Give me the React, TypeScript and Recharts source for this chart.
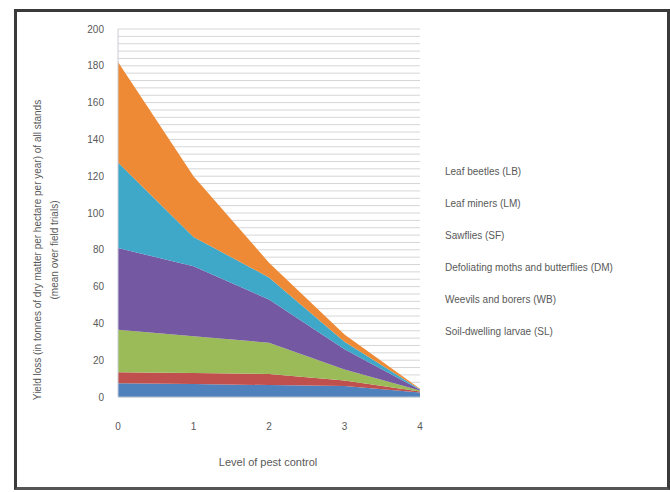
import React from "react";
import { AreaChart, Area, XAxis, YAxis, CartesianGrid } from "recharts";

// x categories and stacked layers, bottom layer first
const categories = ["0", "1", "2", "3", "4"];
const soilLarvae = [7.5, 7, 6.5, 6, 2.5];
const weevils = [6, 6, 6, 3, 0.5];
const moths = [23, 20, 17, 6, 0.5];
const sawflies = [44.5, 38, 23.5, 11, 0.5];
const leafMiners = [46.5, 16, 12, 4, 0.2];
const leafBeetles = [54.5, 33, 8, 4, 0.3];

// gridlines every 4, labels every 20
const gridTicks = Array.from({ length: 51 }, (_, i) => i * 4);

const series = [
  { key: "soilLarvae", name: "Soil-dwelling larvae (SL)", color: "#4F81BD", values: soilLarvae },
  { key: "weevils", name: "Weevils and borers (WB)", color: "#C0504D", values: weevils },
  { key: "moths", name: "Defoliating moths and butterflies (DM)", color: "#9BBB59", values: moths },
  { key: "sawflies", name: "Sawflies (SF)", color: "#7558A2", values: sawflies },
  { key: "leafMiners", name: "Leaf miners (LM)", color: "#3FA8C8", values: leafMiners },
  { key: "leafBeetles", name: "Leaf beetles (LB)", color: "#EE8A35", values: leafBeetles },
];

const data = categories.map((name, i) => {
  const row: Record<string, string | number> = { name };
  series.forEach((s) => (row[s.key] = s.values[i]));
  return row;
});

const font = "'Liberation Sans', Arial, sans-serif";

export default function App() {
  return (
    <div style={{ position: "absolute", left: 0, top: 0, width: 670, height: 492, background: "#fff", fontFamily: font }}>
      <div
        style={{
          position: "absolute",
          left: 14,
          top: 9,
          width: 656,
          height: 481,
          boxSizing: "border-box",
          borderTop: "3px solid #3a3a3a",
          borderLeft: "3px solid #3a3a3a",
          borderRight: "3px solid #3a3a3a",
          borderBottom: "3px solid #555",
        }}
      />
      <div style={{ position: "absolute", left: 0, top: 0 }}>
        <AreaChart width={670} height={492} data={data} margin={{ top: 29, right: 250, bottom: 65, left: 78 }}>
          <CartesianGrid vertical={false} stroke="#d6d6d6" />
          <XAxis
            dataKey="name"
            axisLine={{ stroke: "#b9c3d0" }}
            tickLine={false}
            tickSize={0}
            tickMargin={26}
            height={30}
            tick={{ fontSize: 10, fill: "#595959", fontFamily: font }}
          />
          <YAxis
            domain={[0, 200]}
            ticks={gridTicks}
            width={40}
            axisLine={{ stroke: "#c8ccd6" }}
            tickLine={false}
            tickSize={0}
            tickMargin={14}
            interval={0}
            tickFormatter={(v: number) => (v % 20 === 0 ? String(v) : "")}
            tick={{ fontSize: 10, fill: "#595959", fontFamily: font }}
          />
          {series.map((s) => (
            <Area
              key={s.key}
              type="linear"
              dataKey={s.key}
              name={s.name}
              stackId="a"
              stroke="none"
              fill={s.color}
              fillOpacity={1}
              isAnimationActive={false}
            />
          ))}
        </AreaChart>
      </div>

      {/* legend, top series first */}
      <div style={{ position: "absolute", left: 445, top: 165 }}>
        {[...series].reverse().map((s) => (
          <div key={s.key} style={{ height: 32, fontSize: 10, color: "#595959", whiteSpace: "nowrap", lineHeight: "14px" }}>
            {s.name}
          </div>
        ))}
      </div>

      {/* y axis title, two lines */}
      <div
        style={{
          position: "absolute",
          left: 46,
          top: 250,
          transform: "translate(-50%, -50%) rotate(-90deg)",
          fontSize: 10,
          color: "#595959",
          whiteSpace: "nowrap",
          textAlign: "center",
          lineHeight: "17px",
        }}
      >
        Yield loss (in tonnes of dry matter per hectare per year) of all stands
        <br />
        (mean over field trials)
      </div>

      {/* x axis title */}
      <div
        style={{
          position: "absolute",
          left: 268,
          top: 462,
          transform: "translate(-50%, -50%)",
          fontSize: 11,
          color: "#595959",
          whiteSpace: "nowrap",
        }}
      >
        Level of pest control
      </div>
    </div>
  );
}
